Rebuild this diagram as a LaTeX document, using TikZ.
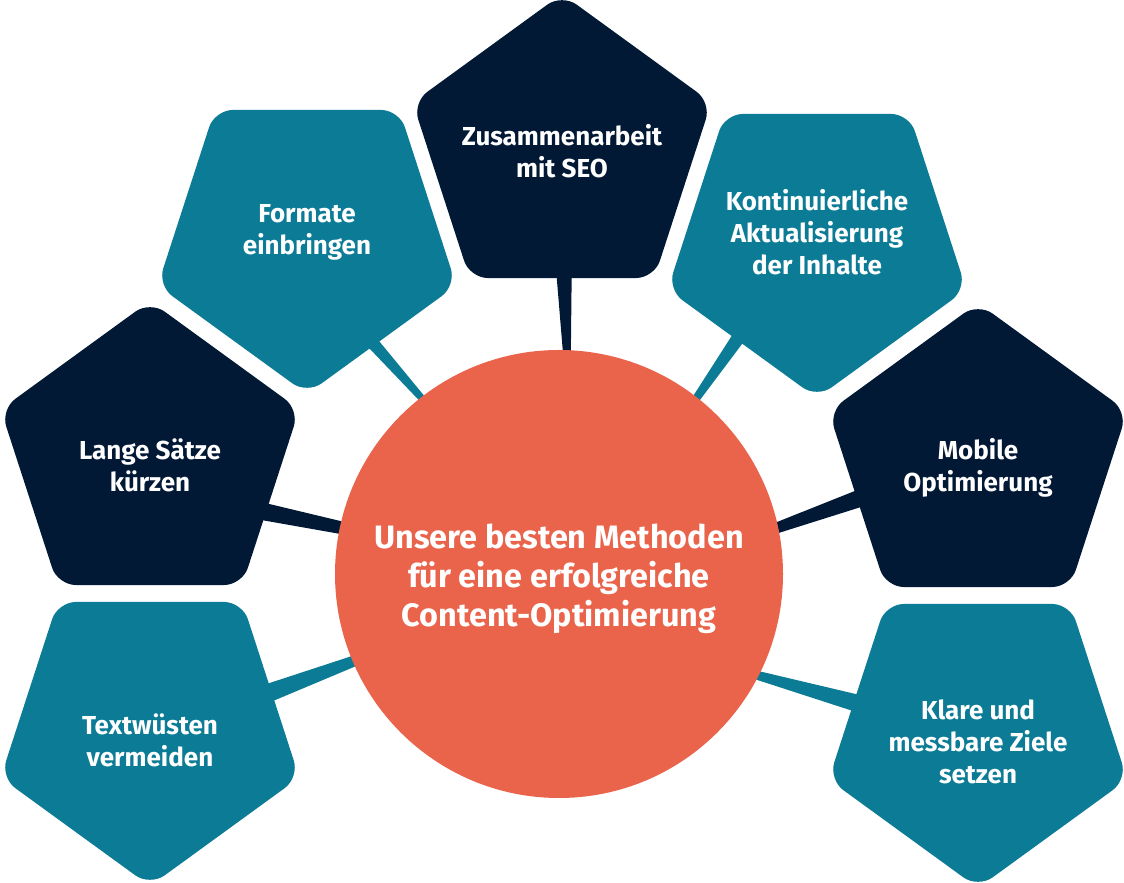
\documentclass[tikz,border=0pt]{standalone}
\usepackage{fontspec}
\setmainfont{Fira Sans}
\usetikzlibrary{shapes.geometric,calc,backgrounds}

\definecolor{navy}{HTML}{021936}
\definecolor{petrol}{HTML}{0C7B95}
\definecolor{coral}{HTML}{EA634B}

% tapered spoke: hub angle, node, node angle, colour, half widths
\newcommand{\spoke}[6]{%
  \coordinate (s1) at ($(hub.#1)!-12pt!(#2.#3)$);
  \coordinate (s2) at ($(#2.#3)!-12pt!(hub.#1)$);
  \fill[#4] ($(s1)!#5!90:(s2)$) -- ($(s2)!#6!-90:(s1)$)
    -- ($(s2)!#6!90:(s1)$) -- ($(s1)!#5!-90:(s2)$) -- cycle;}

\begin{document}
\begin{tikzpicture}
[x=1pt, y=1pt,
  core/.style={circle, fill=coral, minimum size=448pt, outer sep=0pt},
  coretext/.style={text=white, align=center,
    font=\fontsize{32.4}{39}\selectfont\bfseries},
  pent/.style={regular polygon, regular polygon sides=5, minimum size=314pt,
    rounded corners=18pt, inner sep=0pt, outer sep=0pt},
  flipped/.style={shape border rotate=180},
  ptext/.style={text=white, align=center,
    font=\fontsize{26}{31.8}\selectfont\bfseries}]
  \useasboundingbox (0,0) rectangle (1124,883);

  \node[core] (hub) at (559,309) {};
  \node[coretext] (hub-t) at ([yshift=-5pt]hub.center)
    {Unsere besten Methoden\\für eine erfolgreiche\\Content-Optimierung};

  \node[pent, fill=navy] (seo) at (562,732) {};
  \node[pent, flipped, fill=petrol] (formate) at (307,646) {};
  \node[pent, flipped, fill=petrol] (aktual) at (817,642) {};
  \node[pent, fill=navy] (saetze) at (150,425) {};
  \node[pent, fill=navy] (mobile) at (978,423) {};
  \node[pent, flipped, fill=petrol] (wuesten) at (150,154) {};
  \node[pent, flipped, fill=petrol] (ziele) at (978,152) {};

  \node[ptext] (seo-t) at (seo.center) {Zusammenarbeit\\mit SEO};
  \node[ptext] (formate-t) at ([yshift=5pt]formate.center) {Formate\\einbringen};
  \node[ptext] (aktual-t) at ([yshift=9pt]aktual.center)
    {Kontinuierliche\\Aktualisierung\\der Inhalte};
  \node[ptext] (saetze-t) at ([yshift=-7pt]saetze.center) {Lange Sätze\\kürzen};
  \node[ptext] (mobile-t) at ([yshift=-8pt]mobile.center) {Mobile\\Optimierung};
  \node[ptext] (wuesten-t) at ([yshift=-11pt]wuesten.center) {Textwüsten\\vermeiden};
  \node[ptext] (ziele-t) at ([yshift=-11pt]ziele.center)
    {Klare und\\messbare Ziele\\setzen};

  \begin{scope}[on background layer]
    \spoke{88.5}{seo}{271.4}{navy}{3.5pt}{8pt}
    \spoke{128.8}{formate}{302.7}{petrol}{3pt}{6.5pt}
    \spoke{52}{aktual}{231.9}{petrol}{3.5pt}{7pt}
    \spoke{168}{saetze}{335.6}{navy}{6pt}{9pt}
    \spoke{12.6}{mobile}{198.7}{navy}{5pt}{9pt}
    \spoke{203.4}{wuesten}{17.5}{petrol}{5pt}{9.5pt}
    \spoke{333.1}{ziele}{167.8}{petrol}{4pt}{9pt}
  \end{scope}
\end{tikzpicture}
\end{document}
